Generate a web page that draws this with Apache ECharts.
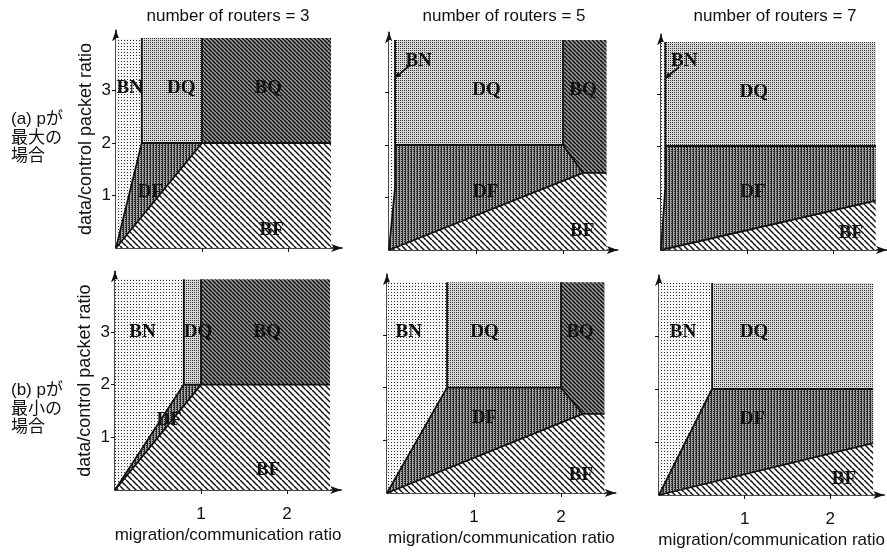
<!DOCTYPE html>
<html>
<head>
<meta charset="utf-8">
<script src="https://cdn.jsdelivr.net/npm/echarts@6/dist/echarts.min.js"></script>
<style>html,body{margin:0;padding:0;background:#fff;}#c{width:887px;height:552px;}</style>
</head>
<body>
<div id="c"></div>
<script>
// ---------------- data ----------------
const panelTitles = ['number of routers = 3', 'number of routers = 5', 'number of routers = 7'];
const rowLabels = [['(a) pが', '最大の', '場合'], ['(b) pが', '最小の', '場合']];
const xTicks = [1, 2];
const yTicks = [1, 2, 3];
const xAxisName = 'migration/communication ratio';
const yAxisName = 'data/control packet ratio';

// region polygons [name, vertices]
const regionsR3Max = [
  ['BN', [[0,0],[0.3,2],[0.3,4],[0,4]]],
  ['DQ', [[0.3,2],[1,2],[1,4],[0.3,4]]],
  ['BQ', [[1,2],[2.5,2],[2.5,4],[1,4]]],
  ['DF', [[0,0],[1,2],[0.3,2]]],
  ['BF', [[0,0],[2.5,0],[2.5,2],[1,2]]]
];
const regionsR5Max = [
  ['BN', [[0,0],[0.07,1.2],[0.07,4],[0,4]]],
  ['DQ', [[0.07,2],[2,2],[2,4],[0.07,4]]],
  ['BQ', [[2,2],[2.23,1.47],[2.5,1.47],[2.5,4],[2,4]]],
  ['DF', [[0,0],[2.23,1.47],[2,2],[0.07,2],[0.07,1.2]]],
  ['BF', [[0,0],[2.5,0],[2.5,1.47],[2.23,1.47]]]
];
const regionsR7Max = [
  ['BN', [[0,0],[0.05,1.2],[0.05,4],[0,4]]],
  ['DQ', [[0.05,2],[2.5,2],[2.5,4],[0.05,4]]],
  ['DF', [[0,0],[2.5,0.95],[2.5,2],[0.05,2],[0.05,1.2]]],
  ['BF', [[0,0],[2.5,0],[2.5,0.95]]]
];
const regionsR3Min = [
  ['BN', [[0,0],[0.8,2],[0.8,4],[0,4]]],
  ['DQ', [[0.8,2],[1,2],[1,4],[0.8,4]]],
  ['BQ', [[1,2],[2.5,2],[2.5,4],[1,4]]],
  ['DF', [[0,0],[1,2],[0.8,2]]],
  ['BF', [[0,0],[2.5,0],[2.5,2],[1,2]]]
];
const regionsR5Min = [
  ['BN', [[0,0],[0.69,2],[0.69,4],[0,4]]],
  ['DQ', [[0.69,2],[2,2],[2,4],[0.69,4]]],
  ['BQ', [[2,2],[2.25,1.5],[2.5,1.5],[2.5,4],[2,4]]],
  ['DF', [[0,0],[2.25,1.5],[2,2],[0.69,2]]],
  ['BF', [[0,0],[2.5,0],[2.5,1.5],[2.25,1.5]]]
];
const regionsR7Min = [
  ['BN', [[0,0],[0.62,2],[0.62,4],[0,4]]],
  ['DQ', [[0.62,2],[2.5,2],[2.5,4],[0.62,4]]],
  ['DF', [[0,0],[2.5,0.98],[2.5,2],[0.62,2]]],
  ['BF', [[0,0],[2.5,0],[2.5,0.98]]]
];

// boundary polylines
const edgesR3Max = [[[0,0],[0.3,2],[0.3,4]], [[0.3,2],[2.5,2]], [[0,0],[1,2],[1,4]]];
const edgesR5Max = [[[0,0],[0.07,1.2],[0.07,4]], [[0.07,2],[2,2],[2,4]], [[2,2],[2.23,1.47],[2.5,1.47]], [[0,0],[2.23,1.47]]];
const edgesR7Max = [[[0,0],[0.05,1.2],[0.05,4]], [[0.05,2],[2.5,2]], [[0,0],[2.5,0.95]]];
const edgesR3Min = [[[0,0],[0.8,2],[0.8,4]], [[0.8,2],[2.5,2]], [[0,0],[1,2],[1,4]]];
const edgesR5Min = [[[0,0],[0.69,2],[0.69,4]], [[0.69,2],[2,2],[2,4]], [[2,2],[2.25,1.5],[2.5,1.5]], [[0,0],[2.25,1.5]]];
const edgesR7Min = [[[0,0],[0.62,2],[0.62,4]], [[0.62,2],[2.5,2]], [[0,0],[2.5,0.98]]];

// BN pointer arrows (tail -> head)
const arrowR5Max = [[0.24,3.52],[0.07,3.28]];
const arrowR7Max = [[0.21,3.52],[0.05,3.3]];

// region labels [text, x, y]
const labelsR3Max = [['BN',0.16,3.04],['DQ',0.76,3.04],['BQ',1.77,3.04],['DF',0.4,1.07],['BF',1.81,0.34]];
const labelsR5Max = [['BN',0.34,3.6],['DQ',1.12,3.05],['BQ',2.23,3.05],['DF',1.11,1.1],['BF',2.22,0.36]];
const labelsR7Max = [['BN',0.27,3.63],['DQ',1.08,3.04],['DF',1.07,1.12],['BF',2.21,0.33]];
const labelsR3Min = [['BN',0.32,2.99],['DQ',0.965,2.99],['BQ',1.77,2.99],['DF',0.63,1.33],['BF',1.78,0.38]];
const labelsR5Min = [['BN',0.25,3.05],['DQ',1.12,3.05],['BQ',2.22,3.05],['DF',1.12,1.42],['BF',2.23,0.34]];
const labelsR7Min = [['BN',0.28,3.07],['DQ',1.11,3.07],['DF',1.09,1.43],['BF',2.16,0.3]];

// ---------------- patterns ----------------
function makePattern(w, h, draw) {
  const c = document.createElement('canvas');
  c.width = w; c.height = h;
  draw(c.getContext('2d'), w, h);
  return { image: c, repeat: 'repeat' };
}
function diag(ctx, s, color, lw) {
  ctx.strokeStyle = color; ctx.lineWidth = lw;
  for (let k = -1; k <= 1; k++) {
    ctx.beginPath(); ctx.moveTo(k * s, 0); ctx.lineTo(k * s + s, s); ctx.stroke();
  }
}
const fills = {
  BN: makePattern(3, 3, (ctx) => { ctx.fillStyle = '#f6f6f6'; ctx.fillRect(0,0,3,3); ctx.fillStyle = '#2a2a2a'; ctx.fillRect(1,1,1,1); }),
  DQ: makePattern(2, 2, (ctx) => { ctx.fillStyle = '#d8d8d8'; ctx.fillRect(0,0,2,2); ctx.fillStyle = '#333'; ctx.fillRect(0,0,1,1); }),
  BQ: makePattern(4, 4, (ctx) => { ctx.fillStyle = '#9a9a9a'; ctx.fillRect(0,0,4,4); diag(ctx, 4, '#111', 1.5); }),
  DF: makePattern(3, 2, (ctx) => { ctx.fillStyle = '#a4a4a4'; ctx.fillRect(0,0,3,2); ctx.fillStyle = '#282828'; ctx.fillRect(0,0,1,2); ctx.fillRect(2,1,1,1); }),
  BF: makePattern(6, 6, (ctx) => { ctx.fillStyle = '#ffffff'; ctx.fillRect(0,0,6,6); diag(ctx, 6, '#111', 1.5); })
};

// ---------------- layout ----------------
const XMAX = 2.63, YMAX = 4.15;
const panels = [
  { ox: 116, oy: 248, xu: 86, yu: 52.5, row: 0, col: 0, regions: regionsR3Max, edges: edgesR3Max, labels: labelsR3Max, arrow: null },
  { ox: 389, oy: 250, xu: 87, yu: 52.5, row: 0, col: 1, regions: regionsR5Max, edges: edgesR5Max, labels: labelsR5Max, arrow: arrowR5Max },
  { ox: 661, oy: 250, xu: 86, yu: 52, row: 0, col: 2, regions: regionsR7Max, edges: edgesR7Max, labels: labelsR7Max, arrow: arrowR7Max },
  { ox: 115, oy: 490, xu: 86, yu: 52.7, row: 1, col: 0, regions: regionsR3Min, edges: edgesR3Min, labels: labelsR3Min, arrow: null },
  { ox: 387, oy: 493, xu: 87, yu: 52.7, row: 1, col: 1, regions: regionsR5Min, edges: edgesR5Min, labels: labelsR5Min, arrow: null },
  { ox: 659, oy: 495, xu: 86.5, yu: 53, row: 1, col: 2, regions: regionsR7Min, edges: edgesR7Min, labels: labelsR7Min, arrow: null }
];

const SANS = '"Liberation Sans", Arial, "Noto Sans CJK JP", sans-serif';
const SERIF = '"Liberation Serif", "Times New Roman", serif';

const grid = [], xAxis = [], yAxis = [], series = [];
panels.forEach((p, i) => {
  grid.push({ left: p.ox, top: p.oy - YMAX * p.yu, width: XMAX * p.xu, height: YMAX * p.yu, containLabel: false });
  xAxis.push({
    gridIndex: i, type: 'value', min: 0, max: XMAX,
    axisLine: { show: true, onZero: false, symbol: ['none', 'arrow'], symbolSize: [6, 11], lineStyle: { color: '#111', width: 1.5 } },
    axisTick: { show: true, customValues: xTicks, length: 4, lineStyle: { color: '#111', width: 1 } },
    axisLabel: { show: p.row === 1, customValues: xTicks, margin: 16, fontSize: 17, color: '#111', fontFamily: SANS },
    splitLine: { show: false },
    name: p.row === 1 ? xAxisName : '', nameLocation: 'middle', nameGap: 37,
    nameTextStyle: { fontSize: 17, color: '#111', fontFamily: SANS }
  });
  yAxis.push({
    gridIndex: i, type: 'value', min: 0, max: YMAX,
    axisLine: { show: true, onZero: false, symbol: ['none', 'arrow'], symbolSize: [6, 11], lineStyle: { color: '#111', width: 1.5 } },
    axisTick: { show: true, customValues: yTicks, length: 4, lineStyle: { color: '#111', width: 1 } },
    axisLabel: { show: p.col === 0, customValues: yTicks, margin: 5, fontSize: 17, color: '#111', fontFamily: SANS },
    splitLine: { show: false },
    name: p.col === 0 ? yAxisName : '', nameLocation: 'middle', nameGap: 21,
    nameTextStyle: { fontSize: 18, color: '#111', fontFamily: SANS }
  });
  // regions
  series.push({
    type: 'custom', xAxisIndex: i, yAxisIndex: i, z: 1, silent: true,
    data: p.regions.map((r, k) => [r[1][0][0], r[1][0][1], k]),
    renderItem: (params, api) => {
      const r = p.regions[params.dataIndex];
      return { type: 'polygon', shape: { points: r[1].map(v => api.coord(v)) }, style: { fill: fills[r[0]], stroke: null } };
    }
  });
  // boundaries
  series.push({
    type: 'custom', xAxisIndex: i, yAxisIndex: i, z: 2, silent: true,
    data: p.edges.map((e, k) => [e[0][0], e[0][1], k]),
    renderItem: (params, api) => {
      const e = p.edges[params.dataIndex];
      return { type: 'polyline', shape: { points: e.map(v => api.coord(v)) }, style: { stroke: '#111', lineWidth: 1.8, fill: null } };
    }
  });
  // arrow
  if (p.arrow) {
    const a = p.arrow;
    series.push({
      type: 'custom', xAxisIndex: i, yAxisIndex: i, z: 3, silent: true,
      data: [[a[0][0], a[0][1]]],
      renderItem: (params, api) => {
        const t = api.coord(a[0]), h = api.coord(a[1]);
        const ang = Math.atan2(h[1] - t[1], h[0] - t[0]);
        const L = 6, W = 3;
        const bx = h[0] - L * Math.cos(ang), by = h[1] - L * Math.sin(ang);
        const px = -Math.sin(ang) * W, py = Math.cos(ang) * W;
        return { type: 'group', children: [
          { type: 'line', shape: { x1: t[0], y1: t[1], x2: bx, y2: by }, style: { stroke: '#111', lineWidth: 1.8 } },
          { type: 'polygon', shape: { points: [h, [bx + px, by + py], [bx - px, by - py]] }, style: { fill: '#111' } }
        ] };
      }
    });
  }
  // labels
  series.push({
    type: 'custom', xAxisIndex: i, yAxisIndex: i, z: 4, silent: true,
    data: p.labels.map(l => [l[1], l[2]]),
    renderItem: (params, api) => {
      const l = p.labels[params.dataIndex];
      const c = api.coord([l[1], l[2]]);
      return { type: 'text', x: c[0], y: c[1], style: { text: l[0], font: 'bold 19px ' + SERIF, fill: '#111', textAlign: 'center', textVerticalAlign: 'middle' } };
    }
  });
});

// free texts
const graphic = [];
const titleCenters = [228, 504, 775];
panelTitles.forEach((t, k) => {
  graphic.push({ type: 'text', x: titleCenters[k], y: 8, style: { text: t, font: '17px ' + SANS, fill: '#111', textAlign: 'center', textVerticalAlign: 'top' } });
});
const rowTops = [111, 382];
rowLabels.forEach((lines, r) => {
  lines.forEach((s, j) => {
    graphic.push({ type: 'text', x: 11, y: rowTops[r] + j * 18.5, style: { text: s, font: '17px ' + SANS, fill: '#111', textAlign: 'left', textVerticalAlign: 'top' } });
  });
});

const chart = echarts.init(document.getElementById('c'), null, { renderer: 'canvas' });
chart.setOption({
  animation: false,
  backgroundColor: '#fff',
  grid, xAxis, yAxis, series, graphic
});
</script>
</body>
</html>
